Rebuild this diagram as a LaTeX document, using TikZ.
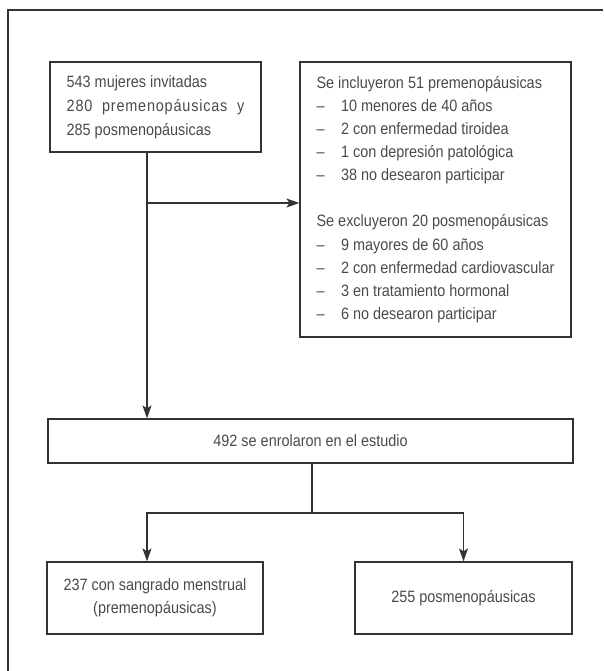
\documentclass[tikz,border=0pt]{standalone}
\usepackage{fontspec}
\setmainfont[FakeStretch=0.88]{Liberation Sans}
\usepackage{xcolor}
\usepackage{tikz}
\usetikzlibrary{arrows.meta,positioning,calc}
\definecolor{ink}{HTML}{4A4A4A}
\definecolor{rule}{HTML}{333333}

\begin{document}
\begin{tikzpicture}[
  x=1pt, y=-1pt,
  font=\fontsize{16.4}{23.1}\selectfont, text=ink,
  box/.style={draw=rule, line width=1.2pt, inner sep=0pt},
  ar/.style={-{Stealth[length=13pt,width=9pt,inset=3pt]}, draw=rule, line width=1.2pt},
  ln/.style={draw=rule, line width=1.2pt},
]
\useasboundingbox (0,0) rectangle (603,671);
% outer frame
\draw[rule, line width=2.2pt] (8,671) -- (8,10) -- (603,10);
\node[box, minimum width=211pt, minimum height=90pt, align=left,
  font=\fontsize{16.4}{24}\selectfont] (init) at (155.5,107)
  {543 mujeres invitadas\\{\addfontfeature{LetterSpace=5}280 \ premenop\'ausicas \ y}\\285 posmenop\'ausicas};
\node[box, minimum width=271pt, minimum height=275pt, align=left] (excl) at (435.5,199.5)
  {Se incluyeron 51 premenop\'ausicas\\
   --\quad 10 menores de 40 a\~nos\\
   --\quad 2 con enfermedad tiroidea\\
   --\quad 1 con depresi\'on patol\'ogica\\
   --\quad 38 no desearon participar\\[23.1pt]
   Se excluyeron 20 posmenop\'ausicas\\
   --\quad 9 mayores de 60 a\~nos\\
   --\quad 2 con enfermedad cardiovascular\\
   --\quad 3 en tratamiento hormonal\\
   --\quad 6 no desearon participar};
\node[box, minimum width=525pt, minimum height=44pt] (enrol) at (310.5,441) {492 se enrolaron en el estudio};
\node[box, minimum width=216pt, minimum height=72pt, align=center] (pre) at (155,598)
  {237 con sangrado menstrual\\(premenop\'ausicas)};
\node[box, minimum width=217pt, minimum height=72pt] (post) at (463.5,598) {255 posmenop\'ausicas};
\coordinate (m) at (147,203);
\coordinate (s) at (312,513);
\draw[ar] (init.south -| m) -- (enrol.north -| m);
\draw[ar] (m) -- (m -| excl.west);
\draw[ln] (enrol.south -| s) -- (s);
\draw[ar] (s) -| (pre.north -| m);
\draw[ar] (s) -| (post.north);
\end{tikzpicture}
\end{document}
